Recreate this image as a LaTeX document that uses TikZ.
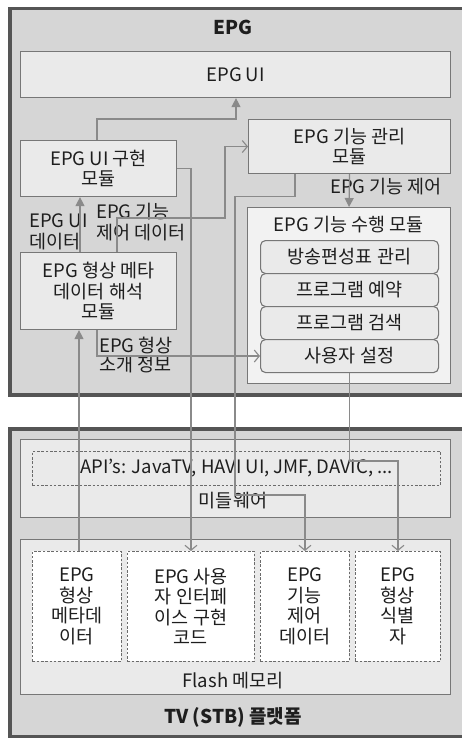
\documentclass[tikz,border=0pt]{standalone}
\usepackage{fontspec}
\setmainfont{Noto Sans CJK KR}
\usetikzlibrary{arrows.meta,calc}
\definecolor{outerfill}{HTML}{D6D6D6}
\definecolor{outerdraw}{HTML}{555555}
\definecolor{boxfill}{HTML}{EAEAEA}
\definecolor{execfill}{HTML}{F2F2F2}
\definecolor{boxdraw}{HTML}{777777}
\definecolor{linec}{HTML}{8A8A8A}
\definecolor{txt}{HTML}{1E1E1E}
\begin{document}
\begin{tikzpicture}[x=1pt,y=-1pt,
  every node/.style={text=txt,font=\fontsize{18.5}{20.5}\selectfont},
  outerbox/.style={draw=outerdraw,fill=outerfill,line width=3.5pt,inner sep=0pt,anchor=north west},
  box/.style={draw=boxdraw,fill=boxfill,line width=1.1pt,inner sep=0pt,align=center,anchor=north west},
  subbox/.style={box,rounded corners=5pt},
  dbox/.style={draw=boxdraw!90!black,fill=white,line width=0.9pt,dash pattern=on 2.5pt off 1.8pt,inner sep=0pt,align=center,anchor=north west},
  apibox/.style={draw=boxdraw!90!black,line width=0.9pt,dash pattern=on 2.5pt off 1.8pt,inner sep=0pt,align=center,anchor=north west},
  lbl/.style={inner sep=0pt,align=left,anchor=west},
  title/.style={inner sep=0pt,font=\fontsize{19}{21}\selectfont\bfseries},
  conn/.style={draw=linec,line width=1.2pt},
  farr/.style={conn,-{Triangle[length=9pt,width=9pt]}},
  oarr/.style={conn,-{Straight Barb[length=5pt,width=12pt,line width=1.1pt]}}
]
\fill[white] (0,0) rectangle (461,738);
\useasboundingbox (0,0) rectangle (461,738);

% ---- EPG block ----
\node[outerbox,minimum width=454pt,minimum height=386pt] (epg) at (8,7) {};
\node[title] (epgtitle) at (233,27) {EPG};
\node[box,minimum width=430pt,minimum height=46pt] (epgui) at (20,51) {EPG UI};
\node[box,minimum width=202pt,minimum height=54pt] (mgmt) at (248,119) {EPG 기능 관리\\모듈};
\node[box,minimum width=156pt,minimum height=56pt] (uiimpl) at (20,140) {EPG UI 구현\\모듈};
\node[box,fill=execfill,minimum width=203pt,minimum height=176pt] (exec) at (247,207) {};
\node[inner sep=0pt] (exectitle) at (348.5,225) {EPG 기능 수행 모듈};
\node[subbox,minimum width=178pt,minimum height=33pt] (s1) at (260,240) {방송편성표 관리};
\node[subbox,minimum width=178pt,minimum height=33pt] (s2) at (260,273) {프로그램 예약};
\node[subbox,minimum width=178pt,minimum height=33pt] (s3) at (260,306) {프로그램 검색};
\node[subbox,minimum width=178pt,minimum height=33pt] (s4) at (260,339) {사용자 설정};
\node[box,minimum width=156pt,minimum height=77pt] (interp) at (20,252) {EPG 형상 메타\\데이터 해석\\모듈};

% ---- TV platform block ----
\node[outerbox,minimum width=454pt,minimum height=308pt] (tv) at (8,427) {};
\node[title] (tvtitle) at (233,717) {TV (STB) 플랫폼};
\node[box,minimum width=430pt,minimum height=78pt] (mw) at (20,439) {};
\node[apibox,minimum width=408pt,minimum height=34pt] (api) at (32,451) {API's: JavaTV, HAVI UI, JMF, DAVIC, ...};
\node[inner sep=0pt] (mwtitle) at (233,501) {미들웨어};
\node[box,minimum width=430pt,minimum height=155pt] (flash) at (20,539) {};
\node[inner sep=0pt] (flashtitle) at (233,681) {Flash 메모리};
\node[dbox,minimum width=89pt,minimum height=110pt] (f1) at (32,551) {EPG\\형상\\메타데\\이터};
\node[dbox,minimum width=127pt,minimum height=110pt] (f2) at (127,551) {EPG 사용\\자 인터페\\이스 구현\\코드};
\node[dbox,minimum width=89pt,minimum height=110pt] (f3) at (260,551) {EPG\\기능\\제어\\데이터};
\node[dbox,minimum width=85pt,minimum height=110pt] (f4) at (355,551) {EPG\\형상\\식별\\자};

% ---- labels ----
\node[lbl] (lbluidata) at (29,232) {EPG UI\\데이터};
\node[lbl] (lblctrl) at (96,222) {EPG 기능\\제어 데이터};
\node[lbl,font=\fontsize{18.5}{18.5}\selectfont] (lblintro) at (99,355) {EPG 형상\\소개 정보};
\node[inner sep=0pt] (lblfunc) at (386,187) {EPG 기능 제어};

% ---- connectors ----
\draw[farr] ($(uiimpl.north west)+(77,0)$) |- ($(epgui.south west)+(216,21)$) -- ($(epgui.south west)+(216,0)$);
\draw[farr] (mgmt.south) -- (exec.north);
\draw[farr] ($(interp.north west)+(60,0)$) -- ($(uiimpl.south west)+(60,0)$);
\draw[oarr] ($(interp.north west)+(97,0)$) -- ++(0,-34) -| ($(mgmt.west)+(-23,0)$) -- (mgmt.west);
\draw[oarr] (uiimpl.east) -| (f2.north);
\draw[oarr] ($(mgmt.south west)+(47,0)$) -- ++(0,22) -- ++(-60,0) |- ($(f3.north)+(0,-56)$) -- (f3.north);
\draw[oarr] (s4.south) |- ($(f4.north)+(0,-90)$) -- (f4.north);
\draw[farr] ($(f1.north west)+(47,0)$) -- ($(interp.south west)+(59,0)$);
\draw[oarr] ($(interp.south west)+(77,0)$) |- (s4.west);
\end{tikzpicture}
\end{document}
